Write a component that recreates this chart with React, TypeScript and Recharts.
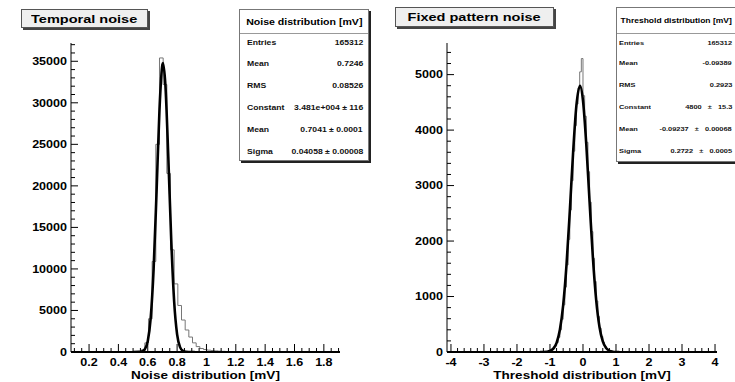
import React from 'react';
import { LineChart, Line, XAxis, YAxis } from 'recharts';

// the original bitmap is stretched sideways, so all text gets this x-scale
const SX = 1.23;
const FONT = '"Liberation Sans", Arial, Helvetica, sans-serif';

// ---- Temporal noise ----
const noiseBinWidth = 0.025;
const noiseBinEdges = [
  0.53, 0.555, 0.58, 0.605, 0.63, 0.655, 0.68, 0.705, 0.73, 0.755, 0.78, 0.805,
  0.83, 0.855, 0.88, 0.905, 0.93, 0.955, 0.98, 1.005, 1.03, 1.055, 1.08, 1.105,
  1.13, 1.155, 1.18, 1.205, 1.23, 1.255, 1.28, 1.305,
];
const noiseCounts = [
  40, 250, 1100, 4000, 10900, 25000, 35400, 32200, 21500, 12300, 8200, 5600,
  3850, 2650, 1800, 1100, 650, 420, 300, 220, 170, 130, 100, 80,
  60, 45, 35, 25, 18, 12, 8, 5,
];
const noiseFitX = [0.5, 0.54, 0.56, 0.58, 0.6, 0.62, 0.64, 0.66, 0.68, 0.7, 0.704, 0.72, 0.74, 0.76, 0.78, 0.8, 0.82, 0.84, 0.86, 0.88, 0.92];
const noiseFitY = [0, 10, 60, 330, 1300, 4070, 10000, 19300, 29200, 34600, 34800, 32200, 23500, 13500, 6050, 2130, 590, 130, 20, 0, 0];

const noiseXLabels = [0.2, 0.4, 0.6, 0.8, 1, 1.2, 1.4, 1.6, 1.8];
const noiseYLabels = [0, 5000, 10000, 15000, 20000, 25000, 30000, 35000];
const noiseStats = [
  ['Entries', '165312'],
  ['Mean', '0.7246'],
  ['RMS', '0.08526'],
  ['Constant', '3.481e+004 \u00b1 116'],
  ['Mean', '0.7041 \u00b1 0.0001'],
  ['Sigma', '0.04058 \u00b1 0.00008'],
];

// ---- Fixed pattern noise ----
const thrBinWidth = 0.05;
const thrBinEdges = [
  -1.3, -1.25, -1.2, -1.15, -1.1, -1.05, -1.0, -0.95, -0.9, -0.85, -0.8, -0.75,
  -0.7, -0.65, -0.6, -0.55, -0.5, -0.45, -0.4, -0.35, -0.3, -0.25, -0.2, -0.15,
  -0.1, -0.05, 0.0, 0.05, 0.1, 0.15, 0.2, 0.25, 0.3, 0.35, 0.4, 0.45,
  0.5, 0.55, 0.6, 0.65, 0.7, 0.75, 0.8, 0.85, 0.9, 0.95, 1.0,
];
const thrCounts = [
  0, 1, 2, 4, 7, 12, 22, 38, 65, 105, 170, 265,
  400, 590, 850, 1170, 1570, 2030, 2560, 3090, 3620, 4080, 4470, 4760,
  5050, 5290, 4620, 4250, 3780, 3250, 2700, 2170, 1690, 1270, 920, 640,
  430, 280, 175, 105, 62, 35, 19, 10, 5, 2, 1,
];
const thrFitX = [-1.3, -1.2, -1.1, -1.0, -0.9, -0.8, -0.7, -0.6, -0.5, -0.4, -0.3, -0.2, -0.09, 0.0, 0.1, 0.2, 0.3, 0.4, 0.5, 0.6, 0.7, 0.8, 0.9, 1.0, 1.1];
const thrFitY = [0, 1, 5, 18, 60, 165, 400, 845, 1565, 2535, 3590, 4440, 4800, 4530, 3740, 2700, 1700, 935, 450, 190, 70, 22, 6, 1, 0];

const thrXLabels = [-4, -3, -2, -1, 0, 1, 2, 3, 4];
const thrYLabels = [0, 1000, 2000, 3000, 4000, 5000];
const thrStats = [
  ['Entries', '165312'],
  ['Mean', '-0.09389'],
  ['RMS', '0.2923'],
  ['Constant', '4800   \u00b1   15.3'],
  ['Mean', '-0.09237   \u00b1   0.00068'],
  ['Sigma', '0.2722   \u00b1   0.0005'],
];

const histPoints = (edges: number[], counts: number[], w: number) => {
  const pts = [{ x: edges[0], y: 0 }];
  edges.forEach((e, i) => pts.push({ x: e, y: counts[i] }));
  pts.push({ x: edges[edges.length - 1] + w, y: 0 });
  return pts;
};
const curvePoints = (xs: number[], ys: number[]) => xs.map((x, i) => ({ x, y: ys[i] }));

const steps = (from: number, to: number, step: number) => {
  const out: number[] = [];
  const n = Math.round((to - from) / step);
  for (let i = 0; i <= n; i++) out.push(+(from + i * step).toFixed(4));
  return out;
};

const fmt = (v: number) => String(Number(v.toFixed(2)));
const isMajor = (majors: number[], v: number) => majors.some((m) => Math.abs(m - v) < 1e-6);

const makeXTick = (majors: number[]) => (props: any) => {
  const { x, y, payload } = props;
  const major = isMajor(majors, payload.value);
  return (
    <g>
      <line x1={x} x2={x} y1={y} y2={y - (major ? 8 : 4)} stroke="#000" />
      {major && (
        <text
          transform={`translate(${x},${y + 14}) scale(${SX},1)`}
          textAnchor="middle"
          fontSize={10.2}
          fontWeight="bold"
          fontFamily={FONT}
          fill="#000"
        >
          {fmt(payload.value)}
        </text>
      )}
    </g>
  );
};

const makeYTick = (majors: number[]) => (props: any) => {
  const { x, y, payload } = props;
  const major = isMajor(majors, payload.value);
  return (
    <g>
      <line x1={x} x2={x + (major ? 7 : 4)} y1={y} y2={y} stroke="#000" />
      {major && (
        <text
          transform={`translate(${x - 4},${y + 3.7}) scale(${SX},1)`}
          textAnchor="end"
          fontSize={10.2}
          fontWeight="bold"
          fontFamily={FONT}
          fill="#000"
        >
          {fmt(payload.value)}
        </text>
      )}
    </g>
  );
};

const axisTitle = (text: string) => (props: any) => {
  const vb = props.viewBox;
  return (
    <text
      transform={`translate(${vb.x + vb.width / 2},${vb.y + vb.height - 3}) scale(${SX},1)`}
      textAnchor="middle"
      fontSize={11}
      fontWeight="bold"
      fontFamily={FONT}
      fill="#000"
    >
      {text}
    </text>
  );
};

const Stretch = ({ children, origin }: { children: React.ReactNode; origin: string }) => (
  <span style={{ display: 'inline-block', transform: `scaleX(${SX})`, transformOrigin: origin, whiteSpace: 'pre' }}>
    {children}
  </span>
);

const TitleBox = ({ text, left, top, width, height }: any) => (
  <div
    style={{
      position: 'absolute', left, top, width, height,
      background: '#efefef', border: '1px solid #555', boxShadow: '2px 2px 0 #444',
      display: 'flex', alignItems: 'center', justifyContent: 'center',
      fontSize: 11.8, fontWeight: 'bold', boxSizing: 'border-box',
    }}
  >
    <Stretch origin="center">{text}</Stretch>
  </div>
);

const StatsBox = ({ title, rows, left, top, width, height, headH, headSize, headShift, rowSize, rowCenters, padL, padR }: any) => (
  <div
    style={{
      position: 'absolute', left, top, width, height, background: '#fff',
      border: '1px solid #777', boxShadow: '2px 2px 0 #222', boxSizing: 'border-box', fontWeight: 'bold',
    }}
  >
    <div
      style={{
        position: 'absolute', left: 0, top: 0, right: 0, height: headH, borderBottom: '1px solid #999',
        display: 'flex', alignItems: 'center', justifyContent: 'center', fontSize: headSize,
      }}
    >
      <span style={{ position: 'relative', left: headShift }}>
        <Stretch origin="center">{title}</Stretch>
      </span>
    </div>
    {rows.map((r: string[], i: number) => (
      <div
        key={i}
        style={{
          position: 'absolute', left: padL, right: padR, top: rowCenters[i] - 5, height: 10,
          display: 'flex', alignItems: 'center', justifyContent: 'space-between', fontSize: rowSize, color: '#111',
        }}
      >
        <Stretch origin="left">{r[0]}</Stretch>
        <Stretch origin="right">{r[1]}</Stretch>
      </div>
    ))}
  </div>
);

const Panel = ({ hist, fit, xDomain, yDomain, xMajor, xMinor, yMajor, yMinor, title, yAxisW, marginR }: any) => (
  <LineChart width={367} height={382} margin={{ top: 43, right: marginR, bottom: 0, left: 0 }}>
    <XAxis
      type="number"
      dataKey="x"
      domain={xDomain}
      allowDataOverflow
      ticks={xMinor}
      interval={0}
      tickSize={0}
      tickMargin={0}
      tickLine={false}
      height={30}
      axisLine={{ stroke: '#000', strokeWidth: 2 }}
      tick={makeXTick(xMajor)}
      label={{ position: 'insideBottom', content: axisTitle(title) }}
    />
    <YAxis
      type="number"
      dataKey="y"
      domain={yDomain}
      allowDataOverflow
      ticks={yMinor}
      interval={0}
      tickSize={0}
      tickMargin={0}
      tickLine={false}
      width={yAxisW}
      axisLine={{ stroke: '#000', strokeWidth: 1 }}
      tick={makeYTick(yMajor)}
    />
    <Line data={hist} dataKey="y" type="stepAfter" stroke="#777" strokeWidth={1} dot={false} isAnimationActive={false} />
    <Line data={fit} dataKey="y" type="monotone" stroke="#000" strokeWidth={2.6} dot={false} isAnimationActive={false} />
  </LineChart>
);

export default function App() {
  const rowCentersL = [32, 53, 75, 97, 119, 141];
  const rowCentersR = [34.7, 54.7, 77, 99, 121, 143];
  return (
    <div
      style={{
        position: 'absolute', left: 0, top: 0, width: 735, height: 382, overflow: 'hidden',
        background: '#fff', fontFamily: FONT,
      }}
    >
      <div style={{ position: 'absolute', left: 0, top: 0 }}>
        <Panel
          hist={histPoints(noiseBinEdges, noiseCounts, noiseBinWidth)}
          fit={curvePoints(noiseFitX, noiseFitY)}
          xDomain={[0.077, 1.91]}
          yDomain={[0, 37200]}
          xMajor={noiseXLabels}
          xMinor={steps(0.1, 1.9, 0.05)}
          yMajor={noiseYLabels}
          yMinor={steps(0, 37000, 1000)}
          title="Noise distribution [mV]"
          yAxisW={71}
          marginR={27}
        />
      </div>
      <div style={{ position: 'absolute', left: 367, top: 0 }}>
        <Panel
          hist={histPoints(thrBinEdges, thrCounts, thrBinWidth)}
          fit={curvePoints(thrFitX, thrFitY)}
          xDomain={[-4.12, 4.06]}
          yDomain={[0, 5570]}
          xMajor={thrXLabels}
          xMinor={steps(-4, 4, 0.2)}
          yMajor={thrYLabels}
          yMinor={steps(0, 5400, 200)}
          title="Threshold distribution [mV]"
          yAxisW={80}
          marginR={17}
        />
      </div>
      <TitleBox text="Temporal noise" left={21} top={9} width={127} height={19} />
      <TitleBox text="Fixed pattern noise" left={395} top={7} width={159} height={20} />
      <StatsBox
        title="Noise distribution [mV]" rows={noiseStats}
        left={239} top={9} width={130} height={152} headH={23} headSize={8.6} headShift={0} rowSize={7}
        rowCenters={rowCentersL} padL={7} padR={5}
      />
      <StatsBox
        title="Threshold distribution [mV]" rows={thrStats}
        left={616} top={7} width={124} height={155} headH={25} headSize={6.9} headShift={-2} rowSize={6}
        rowCenters={rowCentersR} padL={2} padR={7}
      />
    </div>
  );
}
